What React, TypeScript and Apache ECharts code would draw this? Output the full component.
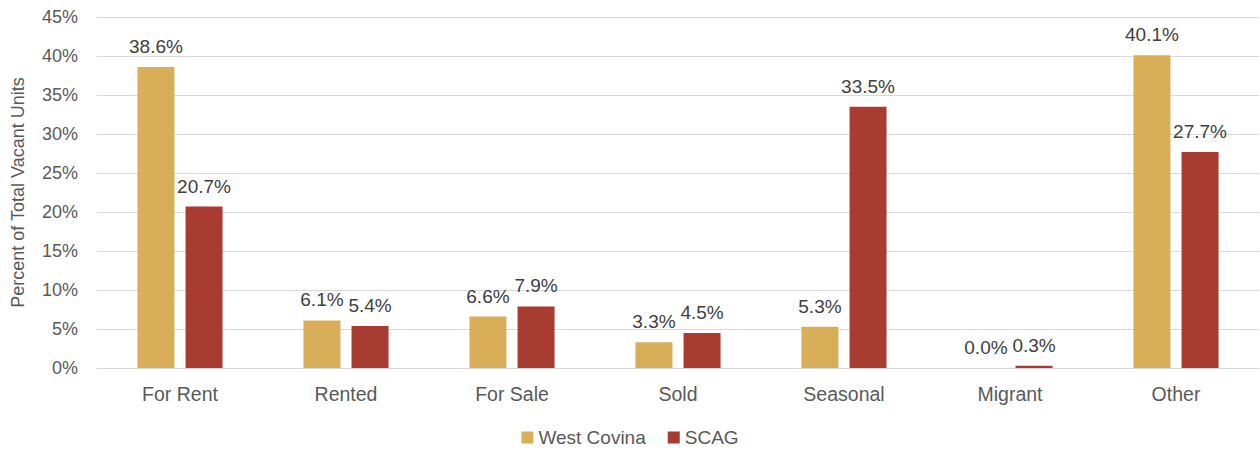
import React, { useEffect, useRef } from "react";
import * as echarts from "echarts";

const categories = ["For Rent", "Rented", "For Sale", "Sold", "Seasonal", "Migrant", "Other"];
const westCovina = [38.6, 6.1, 6.6, 3.3, 5.3, 0.0, 40.1];
const scag = [20.7, 5.4, 7.9, 4.5, 33.5, 0.3, 27.7];

const FONT = "'Liberation Sans', Arial, sans-serif";

export default function App() {
  const ref = useRef<HTMLDivElement>(null);
  useEffect(() => {
    document.body.style.margin = "0";
    const chart = echarts.init(ref.current!, null, { renderer: "svg" });
    const labelCfg = {
      show: true,
      position: "top" as const,
      distance: 11,
      formatter: (p: any) => Number(p.value).toFixed(1) + "%",
      color: "#404040",
      fontSize: 19,
      fontFamily: FONT,
    };
    chart.setOption({
      animation: false,
      textStyle: { fontFamily: FONT },
      grid: { left: 97, right: 1, top: 17, bottom: 85 },
      legend: {
        bottom: 1,
        left: "center",
        itemWidth: 12,
        itemHeight: 12,
        itemGap: 22,
        itemTextGap: 5,
        icon: "rect",
        textStyle: { color: "#595959", fontSize: 19, fontFamily: FONT },
        data: ["West Covina", "SCAG"],
      },
      xAxis: {
        type: "category",
        data: categories,
        axisLine: { show: true, lineStyle: { color: "#d9d9d9", width: 1 } },
        axisTick: { show: false },
        axisLabel: { color: "#595959", fontSize: 19.5, margin: 16, fontFamily: FONT },
      },
      yAxis: {
        type: "value",
        min: 0,
        max: 45,
        interval: 5,
        name: "Percent of Total Vacant Units",
        nameLocation: "middle",
        nameGap: 70,
        nameTextStyle: { color: "#595959", fontSize: 18, fontFamily: FONT },
        axisLine: { show: false },
        axisTick: { show: false },
        axisLabel: { formatter: "{value}%", color: "#595959", fontSize: 18, margin: 19, fontFamily: FONT },
        splitLine: { lineStyle: { color: "#d9d9d9", width: 1 } },
      },
      series: [
        {
          name: "West Covina",
          type: "bar",
          data: westCovina,
          barWidth: 37,
          barGap: "30%",
          itemStyle: { color: "#d9ae59" },
          label: labelCfg,
        },
        {
          name: "SCAG",
          type: "bar",
          data: scag,
          barWidth: 37,
          barGap: "30%",
          itemStyle: { color: "#a93c31" },
          label: labelCfg,
        },
      ],
    });
    return () => chart.dispose();
  }, []);
  return <div ref={ref} style={{ width: 1260, height: 453 }} />;
}
